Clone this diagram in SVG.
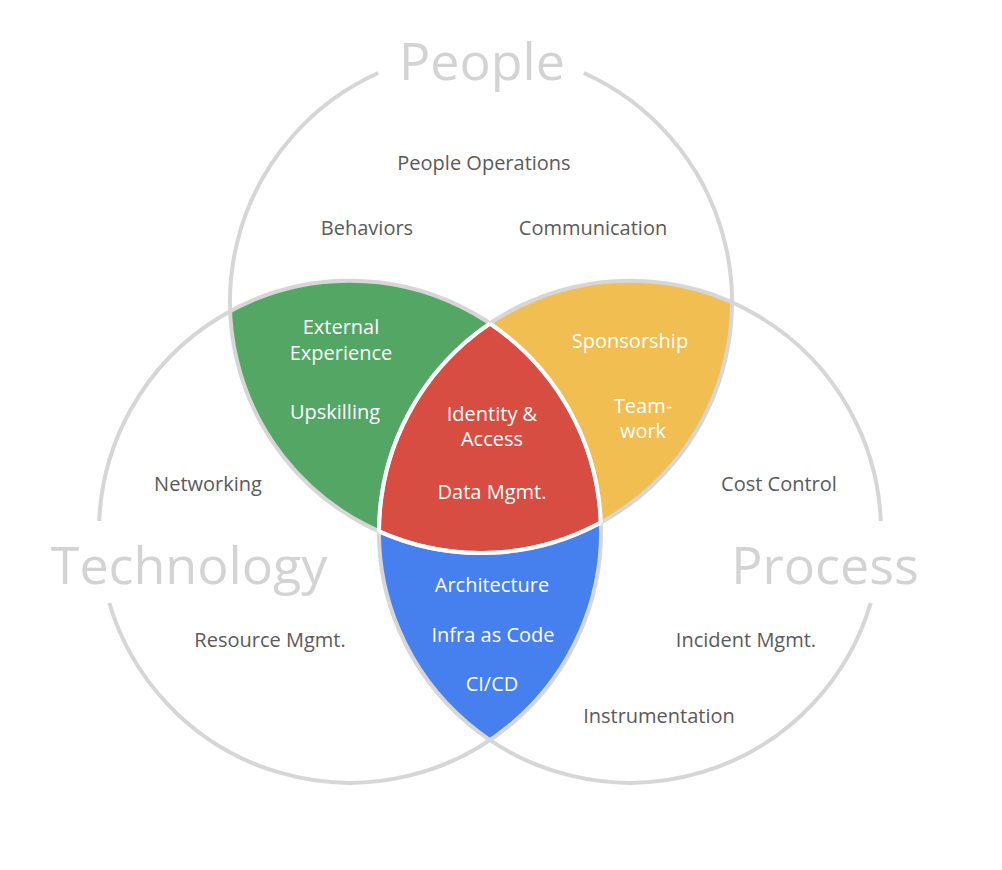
<svg xmlns="http://www.w3.org/2000/svg" width="1002" height="870" viewBox="0 0 1002 870">
<style>
.ring{fill:none;stroke:#d6d6d6;stroke-width:4}
.sep{fill:none;stroke:#ffffff;stroke-width:4}
.title{font-family:"Open Sans","Liberation Sans",sans-serif;font-size:52px;fill:#d3d3d3;text-anchor:middle}
.lbl{font-family:"Open Sans","Liberation Sans",sans-serif;font-size:20px;fill:#5a5a5a;text-anchor:middle}
.wl{font-family:"Open Sans","Liberation Sans",sans-serif;font-size:20px;fill:#ffffff;text-anchor:middle}
</style>
<rect width="1002" height="870" fill="#ffffff"/>
<g id="regions">
  <path id="people-technology" fill="#54a665" d="M230.2,311.4 A251,251 0 0 1 490,323.7 A251,251 0 0 0 379,531.4 A251,251 0 0 1 230.2,311.4 Z"/>
  <path id="people-process" fill="#f1be51" d="M490,323.7 A251,251 0 0 1 732,302.6 A251,251 0 0 1 600.8,522.6 A251,251 0 0 0 490,323.7 Z"/>
  <path id="all-three" fill="#d84d42" d="M490,323.7 A251,251 0 0 1 600.8,522.6 A251,251 0 0 1 379,531.4 A251,251 0 0 1 490,323.7 Z"/>
  <path id="technology-process" fill="#4680ee" d="M379,531.4 A251,251 0 0 0 600.8,522.6 A251,251 0 0 1 490,740.3 A251,251 0 0 1 379,531.4 Z"/>
</g>
<g id="connectors">
  <path id="people-ring" class="ring" d="M583.8,73 A251,251 0 1 1 378.2,73"/>
  <path id="technology-ring" class="ring" d="M99.2,521 A251,251 0 1 1 109.3,603"/>
  <path id="process-ring" class="ring" d="M870.7,603 A251,251 0 1 1 880.8,521"/>
  <path class="sep" d="M490,323.7 A251,251 0 0 0 379,531.4"/>
  <path class="sep" d="M490,323.7 A251,251 0 0 1 600.8,522.6"/>
  <path class="sep" d="M379,531.4 A251,251 0 0 0 600.8,522.6"/>
</g>
<g id="people">
  <text class="title" x="482" y="80">People</text>
  <text class="lbl" x="484" y="170">People Operations</text>
  <text class="lbl" x="367" y="235">Behaviors</text>
  <text class="lbl" x="593" y="235">Communication</text>
</g>
<g id="technology">
  <text class="title" x="189" y="584">Technology</text>
  <text class="lbl" x="208" y="491">Networking</text>
  <text class="lbl" x="270" y="647">Resource Mgmt.</text>
</g>
<g id="process">
  <text class="title" x="825" y="584">Process</text>
  <text class="lbl" x="779" y="491">Cost Control</text>
  <text class="lbl" x="746" y="647">Incident Mgmt.</text>
  <text class="lbl" x="659" y="723">Instrumentation</text>
</g>
<g id="people-technology-labels">
  <text class="wl" x="341" y="334">External</text>
  <text class="wl" x="341" y="360">Experience</text>
  <text class="wl" x="335" y="419">Upskilling</text>
</g>
<g id="people-process-labels">
  <text class="wl" x="630" y="348">Sponsorship</text>
  <text class="wl" x="643" y="413">Team-</text>
  <text class="wl" x="643" y="438">work</text>
</g>
<g id="all-three-labels">
  <text class="wl" x="492" y="421">Identity &amp;</text>
  <text class="wl" x="492" y="446">Access</text>
  <text class="wl" x="492" y="499">Data Mgmt.</text>
</g>
<g id="technology-process-labels">
  <text class="wl" x="492" y="592">Architecture</text>
  <text class="wl" x="493" y="642">Infra as Code</text>
  <text class="wl" x="492" y="691">CI/CD</text>
</g>
</svg>
